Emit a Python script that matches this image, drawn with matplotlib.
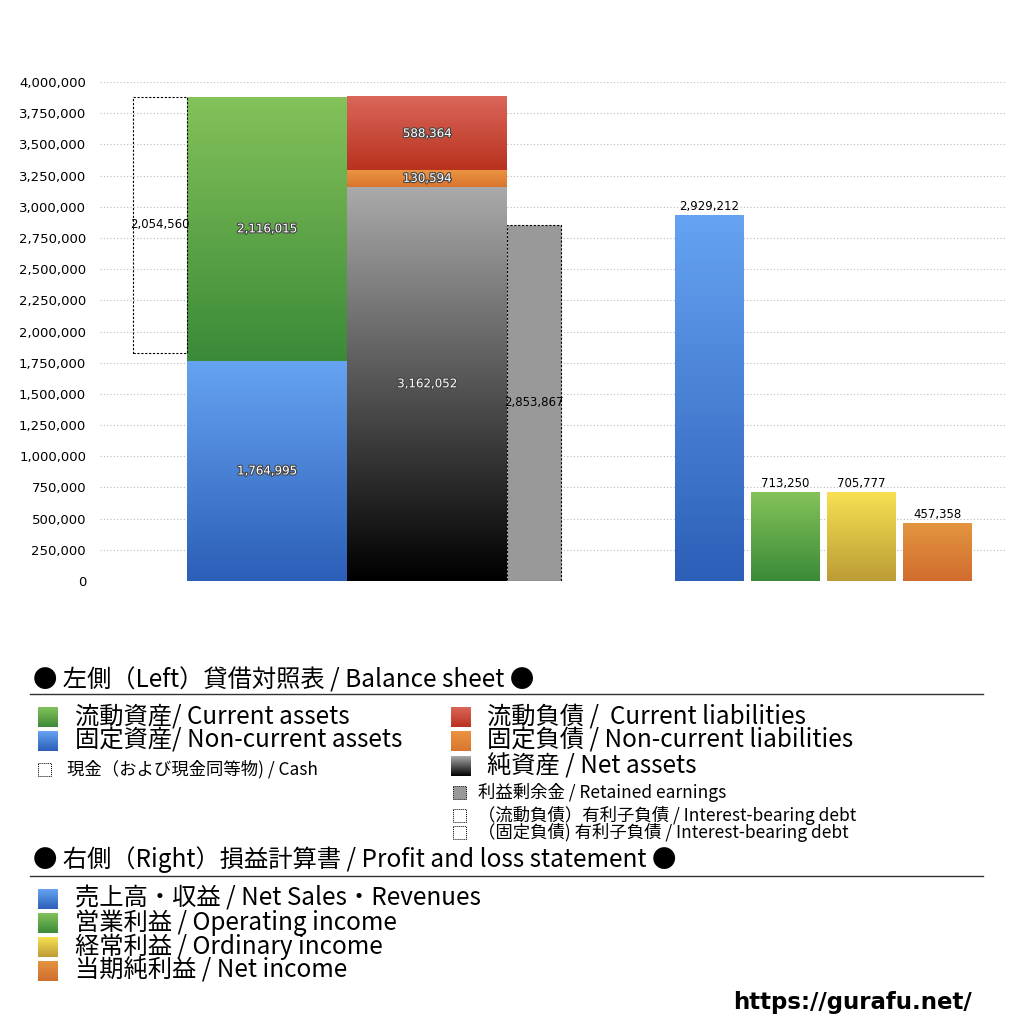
import matplotlib
matplotlib.use("Agg")
import matplotlib.pyplot as plt
import numpy as np
from matplotlib.colors import LinearSegmentedColormap
from matplotlib.patches import Rectangle
import matplotlib.patheffects as pe

plt.rcParams['font.family'] = ['Noto Sans CJK JP', 'DejaVu Sans']

# balance sheet (left)
current_assets = 2116015
noncurrent_assets = 1764995
cash = 2054560
current_liab = 588364
noncurrent_liab = 130594
net_assets = 3162052
retained = 2853867

# profit and loss (right)
pl_values = [2929212, 713250, 705777, 457358]
pl_colors = [('#66a3f2', '#2c5fb8'), ('#84c25a', '#3b8a38'),
             ('#f8e052', '#bc9c36'), ('#e39540', '#d16c2e')]

yticks = np.arange(0, 4000001, 250000)

GREEN = ('#84c25a', '#3b8a38')
BLUE = ('#66a3f2', '#2c5fb8')
RED = ('#db665a', '#b8321e')
ORANGE = ('#eb9442', '#d8752f')
BLACK = ('#aaaaaa', '#000000')

NUMFONT = 'DejaVu Sans'


def grad(ax, x0, x1, y0, y1, top, bottom, z=2):
    cmap = LinearSegmentedColormap.from_list('g', [bottom, top])
    arr = np.linspace(0, 1, 256).reshape(-1, 1)
    ax.imshow(arr, extent=[x0, x1, y0, y1], origin='lower', aspect='auto',
              cmap=cmap, zorder=z, interpolation='bicubic')


def white_label(ax, x, y, s):
    ax.text(x, y, s, ha='center', va='center', color='white', fontsize=8.5, family=NUMFONT,
            path_effects=[pe.withStroke(linewidth=1.6, foreground='#444444')], zorder=5)


fig = plt.figure(figsize=(10.24, 10.24), dpi=100)
ax = fig.add_axes([100 / 1024, 1 - 581 / 1024, 905 / 1024, 499 / 1024])

# x positions in axis units (0..905)
total_assets = noncurrent_assets + current_assets
# assets column
grad(ax, 87, 247, 0, noncurrent_assets, *BLUE)
grad(ax, 87, 247, noncurrent_assets, total_assets, *GREEN)
white_label(ax, 167, noncurrent_assets / 2, f"{noncurrent_assets:,}")
white_label(ax, 167, noncurrent_assets + current_assets / 2, f"{current_assets:,}")

# cash box
cash_bottom = total_assets - cash
ax.add_patch(Rectangle((33, cash_bottom), 54, cash, fill=False, ec='black',
                       lw=0.8, ls=(0, (2, 1.5)), zorder=3))
ax.text(60, cash_bottom + cash / 2, f"{cash:,}", ha='center', va='center', fontsize=8.5,
        family=NUMFONT, zorder=5)

# liabilities + net assets column
grad(ax, 247, 407, 0, net_assets, *BLACK)
grad(ax, 247, 407, net_assets, net_assets + noncurrent_liab, *ORANGE)
grad(ax, 247, 407, net_assets + noncurrent_liab, net_assets + noncurrent_liab + current_liab, *RED)
white_label(ax, 327, net_assets / 2, f"{net_assets:,}")
white_label(ax, 327, net_assets + noncurrent_liab / 2, f"{noncurrent_liab:,}")
white_label(ax, 327, net_assets + noncurrent_liab + current_liab / 2, f"{current_liab:,}")

# retained earnings
ax.add_patch(Rectangle((407, 0), 54, retained, fc='#999999', ec='black',
                       lw=0.8, ls=(0, (2, 1.5)), zorder=3))
ax.text(434, retained / 2, f"{retained:,}", ha='center', va='center', fontsize=8.5,
        family=NUMFONT, zorder=5)

# P&L bars
for i, (v, (ct, cb)) in enumerate(zip(pl_values, pl_colors)):
    x0 = 575 + i * 76
    grad(ax, x0, x0 + 69, 0, v, ct, cb)
    ax.text(x0 + 34.5, v + 20000, f"{v:,}", ha='center', va='bottom', fontsize=8.5,
            family=NUMFONT, zorder=5)

ax.set_xlim(0, 905)
ax.set_ylim(0, 4000000)
ax.set_yticks(yticks)
ax.set_yticklabels([f"{t:,}" for t in yticks], fontsize=9.5, family=NUMFONT)
ax.set_xticks([])
ax.tick_params(axis='y', length=0, pad=10)
for s in ax.spines.values():
    s.set_visible(False)
ax.grid(axis='y', color='#bbbbbb', ls=(0, (1, 2)), lw=0.8, zorder=0)
ax.set_axisbelow(True)

# legend area in pixel coords
lg = fig.add_axes([0, 0, 1, 1])
lg.set_xlim(0, 1024)
lg.set_ylim(1024, 0)
lg.axis('off')
lg.patch.set_alpha(0)


def sq(x, y, colors, size=20):
    grad(lg, x, x + size, y + size / 2, y - size / 2, colors[0], colors[1])


def dotted(x, y, size=13, fc='none'):
    lg.add_patch(Rectangle((x, y - size / 2), size, size, fill=(fc != 'none'), fc=fc,
                           ec='black', lw=0.7, ls=(0, (1, 1))))


big = 17.5
small = 12.5
head = 17.5
lg.text(33, 680, "● 左側（Left）貸借対照表 / Balance sheet ●", fontsize=head, va='center')
lg.plot([30, 983], [694, 694], color='#333333', lw=1)
sq(38, 717, GREEN)
lg.text(75, 717, "流動資産/ Current assets", fontsize=big, va='center')
sq(38, 741, BLUE)
lg.text(75, 741, "固定資産/ Non-current assets", fontsize=big, va='center')
dotted(38, 769)
lg.text(67, 769, "現金（および現金同等物) / Cash", fontsize=small, va='center')
sq(451, 717, RED)
lg.text(487, 717, "流動負債 /  Current liabilities", fontsize=big, va='center')
sq(451, 741, ORANGE)
lg.text(487, 741, "固定負債 / Non-current liabilities", fontsize=big, va='center')
sq(451, 766, BLACK)
lg.text(487, 766, "純資産 / Net assets", fontsize=big, va='center')
dotted(453, 792, fc='#999999')
lg.text(478, 792, "利益剰余金 / Retained earnings", fontsize=small, va='center')
dotted(453, 815)
lg.text(478, 815, "（流動負債）有利子負債 / Interest-bearing debt", fontsize=small, va='center')
dotted(453, 832)
lg.text(478, 833, "（固定負債) 有利子負債 / Interest-bearing debt", fontsize=small, va='center')

lg.text(33, 860, "● 右側（Right）損益計算書 / Profit and loss statement ●", fontsize=head, va='center')
lg.plot([30, 983], [876, 876], color='#333333', lw=1)
pl_names = ["売上高・収益 / Net Sales・Revenues", "営業利益 / Operating income",
            "経常利益 / Ordinary income", "当期純利益 / Net income"]
for i, (name, c) in enumerate(zip(pl_names, pl_colors)):
    y = 899 + i * 24
    sq(38, y, c)
    lg.text(75, y, name, fontsize=big, va='center')

lg.text(972, 1003, "https://gurafu.net/", fontsize=16.5, fontweight='bold', ha='right', va='center',
        family='DejaVu Sans')

fig.savefig("out.png", dpi=100)
